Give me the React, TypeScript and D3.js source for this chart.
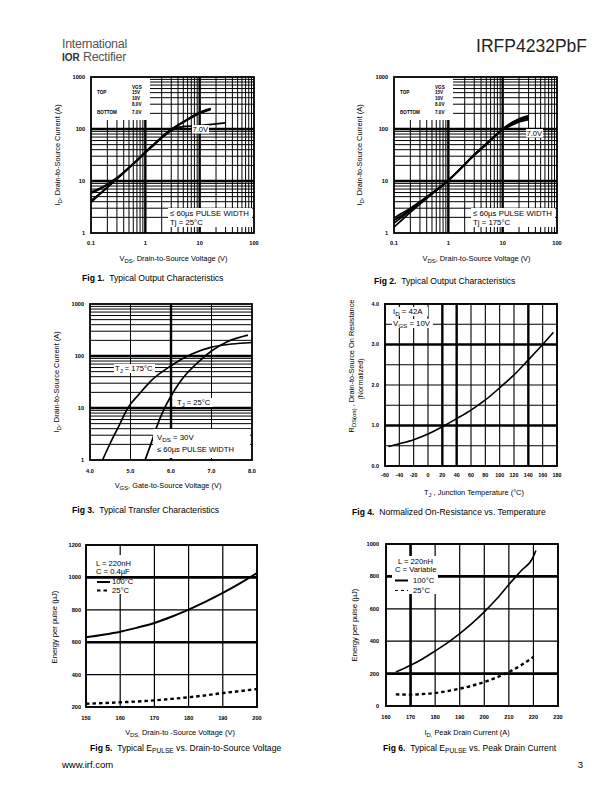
import React from 'react';
import * as d3 from 'd3';

const FONT = "'Liberation Sans', Arial, Helvetica, sans-serif";

// ---------------- Fig 1 : Tj = 25°C ----------------
const fig1Vds = [0.1, 0.15, 0.2, 0.3, 0.5, 0.7, 1, 1.5, 2, 3, 4, 5, 7, 10, 13, 16];
const fig1Id15V = [6.1, 7.3, 8.7, 11.6, 18.2, 25, 36, 53, 70, 99, 120, 138, 170, 210, 232, 246];
const fig1Id10V = [5.8, 7.1, 8.5, 11.4, 18, 25, 36, 53, 70, 98, 119, 137, 168, 207, 228, 242];
const fig1Id8V = [4.2, 5.9, 7.6, 11.0, 17.8, 24.8, 35.5, 52, 69, 97, 117, 134, 164, 200, 221, 235];
const fig1Vds7V = [0.1, 0.15, 0.2, 0.3, 0.5, 0.7, 1, 1.5, 2, 3, 4, 5, 7, 10, 15, 20, 30];
const fig1Id7V = [3.9, 5.7, 7.5, 10.9, 17.6, 24.5, 35, 51, 67, 93, 106, 111, 114, 117, 121, 125, 131];

// ---------------- Fig 2 : Tj = 175°C ----------------
const fig2Vds = [0.1, 0.15, 0.2, 0.3, 0.5, 0.7, 1, 1.5, 2, 3, 5, 7, 10, 15, 20, 30];
const fig2Id15V = [1.95, 2.5, 3.0, 4.0, 5.9, 7.7, 10.5, 15.5, 21, 32, 52, 72, 100, 135, 158, 182];
const fig2Id10V = [1.75, 2.3, 2.85, 3.9, 5.8, 7.6, 10.4, 15.4, 21, 32, 52, 72, 99, 131, 152, 172];
const fig2Id8V = [1.55, 2.15, 2.7, 3.75, 5.7, 7.5, 10.3, 15.3, 20.8, 31.5, 51, 71, 97, 126, 145, 162];
const fig2Id7V = [1.3, 1.9, 2.5, 3.6, 5.6, 7.4, 10.2, 15.2, 20.5, 31, 50, 70, 95, 120, 137, 152];

const vdsTicks = [0.1, 1, 10, 100];
const vdsTickLabels = ['0.1', '1', '10', '100'];
const idLogTicks = [1, 10, 100, 1000];
const idLogTickLabels = ['1', '10', '100', '1000'];
const legendVgsLabels = ['15V', '10V', '8.0V', '7.0V'];

// ---------------- Fig 3 : transfer ----------------
const fig3Vgs175 = [4.31, 4.5, 4.7, 4.95, 5.2, 5.5, 6.0, 6.5, 7.0, 7.5, 8.0];
const fig3Id175 = [1, 2.1, 4.3, 10.5, 18, 33, 65, 108, 148, 170, 182];
const fig3Vgs25 = [5.36, 5.5, 5.65, 5.8, 6.0, 6.2, 6.4, 6.7, 7.0, 7.4, 7.9];
const fig3Id25 = [1, 2.0, 4.4, 8.5, 17, 30, 47, 80, 125, 190, 252];
const vgsTicks = [4, 5, 6, 7, 8];
const vgsTickLabels = ['4.0', '5.0', '6.0', '7.0', '8.0'];

// ---------------- Fig 4 : normalized Rds(on) ----------------
const fig4Temp = [-55, -40, -20, 0, 20, 40, 60, 80, 100, 120, 140, 160, 175];
const fig4Rds = [0.48, 0.55, 0.65, 0.79, 0.97, 1.17, 1.38, 1.63, 1.93, 2.25, 2.62, 3.0, 3.3];
const tempTicks = [-60, -40, -20, 0, 20, 40, 60, 80, 100, 120, 140, 160, 180];
const tempTickLabels = ['-60', '-40', '-20', '0', '20', '40', '60', '80', '100', '120', '140', '160', '180'];
const rdsGrid = [0.5, 1, 1.5, 2, 2.5, 3, 3.5];
const rdsTicks = [0, 1, 2, 3, 4];
const rdsTickLabels = ['0.0', '1.0', '2.0', '3.0', '4.0'];

// ---------------- Fig 5 : Epulse vs Vds ----------------
const fig5Vds = [150, 155, 160, 165, 170, 175, 180, 185, 190, 195, 200];
const fig5E100 = [630, 646, 665, 690, 719, 757, 801, 850, 904, 963, 1027];
const fig5E25 = [220, 224, 229, 234, 241, 250, 260, 272, 286, 298, 311];
const fig5XTicks = [150, 160, 170, 180, 190, 200];
const fig5YTicks = [200, 400, 600, 800, 1000, 1200];

// ---------------- Fig 6 : Epulse vs Id ----------------
const fig6Id100 = [164, 170, 175, 180, 185, 190, 195, 200, 205, 210, 215, 220, 221];
const fig6E100 = [210, 251, 292, 340, 390, 447, 510, 581, 660, 750, 835, 922, 960];
const fig6Id25 = [164, 170, 175, 180, 185, 190, 195, 200, 205, 210, 215, 220];
const fig6E25 = [72, 70, 74, 80, 92, 107, 125, 148, 176, 210, 252, 303];
const fig6XTicks = [160, 170, 180, 190, 200, 210, 220, 230];
const fig6YTicks = [0, 200, 400, 600, 800, 1000];

type Box = { l: number; t: number; r: number; b: number };
type Sc = (v: number) => number;

const near = (a: number, arr: number[]) => arr.some((v) => Math.abs(v - a) < 1e-6 * Math.max(1, Math.abs(v)));

function logGridValues(lo: number, hi: number): number[] {
  const out: number[] = [];
  for (let d = lo; d < hi * 0.999; d *= 10) {
    for (let k = 1; k <= 9; k++) out.push(+(d * k).toPrecision(6));
  }
  return out;
}

function Grid({ box, xs, ys, xVals, yVals, xThick, yThick, thin = 0.9, thick = 2.2 }: {
  box: Box; xs: Sc; ys: Sc; xVals: number[]; yVals: number[]; xThick: number[]; yThick: number[]; thin?: number; thick?: number;
}) {
  return (
    <g>
      {xVals.map((v, i) => (
        <line key={'x' + i} x1={xs(v)} x2={xs(v)} y1={box.t} y2={box.b} stroke="#000" strokeWidth={near(v, xThick) ? thick : thin} />
      ))}
      {yVals.map((v, i) => (
        <line key={'y' + i} x1={box.l} x2={box.r} y1={ys(v)} y2={ys(v)} stroke="#000" strokeWidth={near(v, yThick) ? thick : thin} />
      ))}
    </g>
  );
}

function Frame({ box, w = 1.8 }: { box: Box; w?: number }) {
  return <rect x={box.l} y={box.t} width={box.r - box.l} height={box.b - box.t} fill="none" stroke="#000" strokeWidth={w} />;
}

function Curve({ xs, ys, xv, yv, w = 1.6, dash }: { xs: Sc; ys: Sc; xv: number[]; yv: number[]; w?: number; dash?: string }) {
  const pts: [number, number][] = xv.map((x, i) => [xs(x), ys(yv[i])]);
  const d = d3.line().curve(d3.curveMonotoneX)(pts) || '';
  return <path d={d} fill="none" stroke="#000" strokeWidth={w} strokeDasharray={dash} strokeLinecap="butt" />;
}

function Sub({ x, y, main, sub, rest, fs, anchor = 'start', weight = 'normal', transform }: {
  x: number; y: number; main: string; sub: string; rest: string; fs: number; anchor?: string; weight?: string; transform?: string;
}) {
  return (
    <text x={x} y={y} fontSize={fs} textAnchor={anchor as any} fontWeight={weight} transform={transform} fontFamily={FONT}>
      <tspan>{main}</tspan>
      <tspan dy={fs * 0.3} fontSize={fs * 0.8}>{sub}</tspan>
      <tspan dy={-fs * 0.3}>{rest}</tspan>
    </text>
  );
}

function TickLabels({ xs, ys, xt, xl, yt, yl, xBase, yRight, fs = 5.6 }: {
  xs: Sc; ys: Sc; xt: number[]; xl: string[]; yt: number[]; yl: string[]; xBase: number; yRight: number; fs?: number;
}) {
  return (
    <g fontFamily={FONT} fontSize={fs} fontWeight="bold">
      {xt.map((v, i) => (
        <text key={'xt' + i} x={xs(v)} y={xBase} textAnchor="middle">{xl[i]}</text>
      ))}
      {yt.map((v, i) => (
        <text key={'yt' + i} x={yRight} y={ys(v) + fs * 0.35} textAnchor="end">{yl[i]}</text>
      ))}
    </g>
  );
}

function Caption({ x, y, num, children }: { x: number; y: number; num: string; children: React.ReactNode }) {
  return (
    <text x={x} y={y} fontSize={8.6} fontFamily={FONT}>
      <tspan fontWeight="bold">{num}</tspan>
      <tspan>{'\u00a0\u00a0'}</tspan>
      {children}
    </text>
  );
}

const legendOffsets = [16.5, 22.5, 28.5, 36.5];

function OutputChart({ box, curves, tj, capX, capY, capNum, label7x, label7y, yLabX }: any) {
  const xs = d3.scaleLog().domain([0.1, 100]).range([box.l, box.r]);
  const ys = d3.scaleLog().domain([1, 1000]).range([box.b, box.t]);
  const xg = logGridValues(0.1, 100).filter((v) => v > 0.1 && v < 100);
  const yg = logGridValues(1, 1000).filter((v) => v > 1 && v < 1000);
  const lx = box.l + 6;
  const vx = box.l + 41;
  return (
    <g>
      <Grid box={box} xs={xs} ys={ys} xVals={xg} yVals={yg} xThick={[1, 10]} yThick={[10, 100]} thin={1} thick={2.4} />
      {/* legend mask */}
      <rect x={box.l} y={box.t} width={59} height={43} fill="#fff" />
      {/* pulse text mask */}
      <rect x={box.l + 77} y={box.b - 25} width={84} height={19} fill="#fff" />
      {curves.map((c: any, i: number) => (
        <Curve key={i} xs={xs} ys={ys} xv={c.x} yv={c.y} w={1.7} />
      ))}
      <rect x={label7x} y={label7y} width={17} height={8.5} fill="#fff" />
      <text x={label7x + 0.5} y={label7y + 7} fontSize={7.6} fontFamily={FONT}>7.0V</text>
      <g fontFamily={FONT} fontSize={4.6} fontWeight="bold">
        <text x={vx} y={box.t + 11.5}>VGS</text>
        <text x={lx} y={box.t + 16.5}>TOP</text>
        {legendVgsLabels.map((s, i) => (
          <text key={s} x={vx} y={box.t + legendOffsets[i]}>{s}</text>
        ))}
        <text x={lx} y={box.t + 36.5}>BOTTOM</text>
      </g>
      <g fontFamily={FONT} fontSize={7.8}>
        <text x={box.l + 79} y={box.b - 17}>≤ 60µs PULSE WIDTH</text>
        <text x={box.l + 79} y={box.b - 8}>{tj}</text>
      </g>
      <Frame box={box} w={1.8} />
      <TickLabels xs={xs} ys={ys} xt={vdsTicks} xl={vdsTickLabels} yt={idLogTicks} yl={idLogTickLabels} xBase={box.b + 12} yRight={box.l - 6} />
      <Sub x={(box.l + box.r) / 2 + 1} y={box.b + 28} main="V" sub="DS" rest=", Drain-to-Source Voltage (V)" fs={7.4} anchor="middle" />
      <Sub x={0} y={0} main="I" sub="D" rest=", Drain-to-Source Current (A)" fs={7.4} anchor="middle" transform={`translate(${yLabX},${(box.t + box.b) / 2}) rotate(-90)`} />
      <Caption x={capX} y={capY} num={capNum}>Typical Output Characteristics</Caption>
    </g>
  );
}

function Fig3() {
  const box: Box = { l: 90, t: 304, r: 252, b: 460 };
  const xs = d3.scaleLinear().domain([4, 8]).range([box.l, box.r]);
  const ys = d3.scaleLog().domain([1, 1000]).range([box.b, box.t]);
  const yg = logGridValues(1, 1000).filter((v) => v > 1 && v < 1000);
  return (
    <g>
      <Grid box={box} xs={xs} ys={ys} xVals={[5, 6, 7]} yVals={yg} xThick={[6]} yThick={[10, 100]} thin={1} thick={2.4} />
      <Curve xs={xs} ys={ys} xv={fig3Vgs175} yv={fig3Id175} w={1.7} />
      <Curve xs={xs} ys={ys} xv={fig3Vgs25} yv={fig3Id25} w={1.7} />
      <rect x={153} y={429} width={97} height={29} fill="#fff" />
      <rect x={114} y={364} width={41} height={9} fill="#fff" />
      <rect x={176} y={398} width={37} height={9} fill="#fff" />
      <Sub x={115} y={371} main="T" sub="J" rest=" = 175°C" fs={7.6} />
      <Sub x={177} y={405} main="T" sub="J" rest=" = 25°C" fs={7.6} />
      <Sub x={157} y={440} main="V" sub="DS" rest=" = 30V" fs={7.8} />
      <text x={157} y={452} fontSize={7.6} fontFamily={FONT}>≤ 60µs PULSE WIDTH</text>
      <Frame box={box} w={1.8} />
      <TickLabels xs={xs} ys={ys} xt={vgsTicks} xl={vgsTickLabels} yt={idLogTicks} yl={idLogTickLabels} xBase={box.b + 13} yRight={box.l - 6} />
      <Sub x={(box.l + box.r) / 2 - 3} y={box.b + 28} main="V" sub="GS" rest=", Gate-to-Source Voltage (V)" fs={7.4} anchor="middle" />
      <Sub x={0} y={0} main="I" sub="D" rest=", Drain-to-Source Current (A)" fs={7.4} anchor="middle" transform={`translate(59,382) rotate(-90)`} />
      <Caption x={72} y={513} num="Fig 3.">Typical Transfer Characteristics</Caption>
    </g>
  );
}

function Fig4() {
  const box: Box = { l: 385, t: 304, r: 557, b: 466 };
  const xs = d3.scaleLinear().domain([-60, 180]).range([box.l, box.r]);
  const ys = d3.scaleLinear().domain([0, 4]).range([box.b, box.t]);
  const xg = tempTicks.filter((v) => v > -60 && v < 180);
  return (
    <g>
      <Grid box={box} xs={xs} ys={ys} xVals={xg} yVals={rdsGrid} xThick={[20, 40, 140]} yThick={[1, 3]} thin={1.1} thick={2.4} />
      <rect x={392} y={307} width={36} height={9} fill="#fff" />
      <rect x={392} y={319} width={41} height={9} fill="#fff" />
      <Sub x={393} y={314} main="I" sub="D" rest=" = 42A" fs={7.8} />
      <Sub x={393} y={326} main="V" sub="GS" rest=" = 10V" fs={7.8} />
      <Curve xs={xs} ys={ys} xv={fig4Temp} yv={fig4Rds} w={1.6} />
      <Frame box={box} w={1.9} />
      <TickLabels xs={xs} ys={ys} xt={tempTicks} xl={tempTickLabels} yt={rdsTicks} yl={rdsTickLabels} xBase={box.b + 11} yRight={box.l - 6} fs={5.4} />
      <Sub x={(box.l + box.r) / 2 + 3} y={box.b + 29} main="T" sub="J" rest=" , Junction Temperature (°C)" fs={7.4} anchor="middle" />
      <Sub x={0} y={0} main="R" sub="DS(on)" rest=" , Drain-to-Source On Resistance" fs={7.4} anchor="middle" transform={`translate(354,366) rotate(-90)`} />
      <text transform="translate(363,379) rotate(-90)" textAnchor="middle" fontSize={7.2} fontFamily={FONT}>(Normalized)</text>
      <Caption x={352} y={515} num="Fig 4.">Normalized On-Resistance vs. Temperature</Caption>
    </g>
  );
}

function Fig5() {
  const box: Box = { l: 86, t: 545, r: 257, b: 707 };
  const xs = d3.scaleLinear().domain([150, 200]).range([box.l, box.r]);
  const ys = d3.scaleLinear().domain([200, 1200]).range([box.b, box.t]);
  return (
    <g>
      <Grid box={box} xs={xs} ys={ys} xVals={[160, 170, 180, 190]} yVals={[400, 600, 800, 1000]} xThick={[]} yThick={[600, 1000]} thin={1.2} thick={2.6} />
      <rect x={93} y={555} width={45} height={21} fill="#fff" />
      <rect x={93} y={580} width={45} height={14} fill="#fff" />
      <g fontFamily={FONT} fontSize={7.6}>
        <text x={96} y={566}>L = 220nH</text>
        <text x={96} y={574}>C = 0.4µF</text>
        <text x={112} y={584}>100°C</text>
        <text x={112} y={593}>25°C</text>
      </g>
      <line x1={97} x2={110} y1={582} y2={582} stroke="#000" strokeWidth={2} />
      <line x1={97} x2={110} y1={590.5} y2={590.5} stroke="#000" strokeWidth={2} strokeDasharray="3.5,3" />
      <Curve xs={xs} ys={ys} xv={fig5Vds} yv={fig5E100} w={2} />
      <Curve xs={xs} ys={ys} xv={fig5Vds} yv={fig5E25} w={2.4} dash="3.5,3" />
      <Frame box={box} w={1.9} />
      <TickLabels xs={xs} ys={ys} xt={fig5XTicks} xl={fig5XTicks.map(String)} yt={fig5YTicks} yl={fig5YTicks.map(String)} xBase={box.b + 13} yRight={box.l - 5} fs={5.6} />
      <Sub x={180} y={735} main="V" sub="DS," rest=" Drain-to -Source Voltage  (V)" fs={7.4} anchor="middle" />
      <text transform="translate(57,627) rotate(-90)" textAnchor="middle" fontSize={7.6} fontFamily={FONT}>Energy per pulse (µJ)</text>
      <Caption x={90} y={751} num="Fig 5.">
        <tspan>Typical E</tspan>
        <tspan dy={2} fontSize={6.6}>PULSE</tspan>
        <tspan dy={-2}> vs. Drain-to-Source  Voltage</tspan>
      </Caption>
    </g>
  );
}

function Fig6() {
  const box: Box = { l: 386, t: 544, r: 558, b: 706 };
  const xs = d3.scaleLinear().domain([160, 230]).range([box.l, box.r]);
  const ys = d3.scaleLinear().domain([0, 1000]).range([box.b, box.t]);
  return (
    <g>
      <Grid box={box} xs={xs} ys={ys} xVals={[170, 180, 190, 200, 210, 220]} yVals={[200, 400, 600, 800]} xThick={[170]} yThick={[200, 800]} thin={1.2} thick={2.6} />
      <rect x={392} y={556} width={46} height={38} fill="#fff" />
      <g fontFamily={FONT} fontSize={7.6}>
        <text x={398} y={564}>L = 220nH</text>
        <text x={395} y={572}>C = Variable</text>
        <text x={413} y={583}>100°C</text>
        <text x={413} y={593}>25°C</text>
      </g>
      <line x1={395} x2={408} y1={580.5} y2={580.5} stroke="#000" strokeWidth={2} />
      <line x1={395} x2={408} y1={590.5} y2={590.5} stroke="#000" strokeWidth={1.2} strokeDasharray="3,3" />
      <Curve xs={xs} ys={ys} xv={fig6Id100} yv={fig6E100} w={1.6} />
      <Curve xs={xs} ys={ys} xv={fig6Id25} yv={fig6E25} w={2.4} dash="3.5,3" />
      <Frame box={box} w={1.9} />
      <TickLabels xs={xs} ys={ys} xt={fig6XTicks} xl={fig6XTicks.map(String)} yt={fig6YTicks} yl={fig6YTicks.map(String)} xBase={box.b + 13} yRight={box.l - 7} fs={5.6} />
      <Sub x={467} y={735} main="I" sub="D," rest=" Peak Drain Current  (A)" fs={7.4} anchor="middle" />
      <text transform="translate(357,625) rotate(-90)" textAnchor="middle" fontSize={7.6} fontFamily={FONT}>Energy per pulse (µJ)</text>
      <Caption x={383} y={751} num="Fig 6.">
        <tspan>Typical E</tspan>
        <tspan dy={2} fontSize={6.6}>PULSE</tspan>
        <tspan dy={-2}> vs. Peak Drain Current</tspan>
      </Caption>
    </g>
  );
}

export default function App() {
  const fig1Curves = [
    { x: fig1Vds, y: fig1Id15V },
    { x: fig1Vds, y: fig1Id10V },
    { x: fig1Vds, y: fig1Id8V },
    { x: fig1Vds7V, y: fig1Id7V },
  ];
  const fig2Curves = [
    { x: fig2Vds, y: fig2Id15V },
    { x: fig2Vds, y: fig2Id10V },
    { x: fig2Vds, y: fig2Id8V },
    { x: fig2Vds, y: fig2Id7V },
  ];
  return (
    <svg width={612} height={792} viewBox="0 0 612 792" style={{ position: 'absolute', left: 0, top: 0, background: '#fff' }} fontFamily={FONT}>
      <rect x={0} y={0} width={612} height={792} fill="#fff" />
      {/* header */}
      <text x={62} y={48} fontSize={12.5} fill="#555" fontFamily={FONT} style={{ letterSpacing: '-0.3px' }}>International</text>
      <text x={62} y={61} fontSize={12.5} fill="#555" fontFamily={FONT}>
        <tspan fontWeight="bold" fontSize={10} fill="#333">IOR</tspan>
        <tspan style={{ letterSpacing: '-0.3px' }}>{'\u00a0Rectifier'}</tspan>
      </text>
      <text x={587} y={52} fontSize={17.5} textAnchor="end" fill="#222" fontFamily={FONT}>IRFP4232PbF</text>

      <OutputChart box={{ l: 91, t: 77, r: 254, b: 233 }} curves={fig1Curves} tj="Tj = 25°C" capX={82} capY={281} capNum="Fig 1." label7x={192} label7y={125} yLabX={60} />
      <OutputChart box={{ l: 394, t: 77, r: 557, b: 233 }} curves={fig2Curves} tj="Tj = 175°C" capX={374} capY={284} capNum="Fig 2." label7x={526} label7y={129} yLabX={362} />
      <Fig3 />
      <Fig4 />
      <Fig5 />
      <Fig6 />

      {/* footer */}
      <text x={62} y={768} fontSize={9.5} fontFamily={FONT}>www.irf.com</text>
      <text x={583} y={768} fontSize={9.5} textAnchor="end" fontFamily={FONT}>3</text>
    </svg>
  );
}
